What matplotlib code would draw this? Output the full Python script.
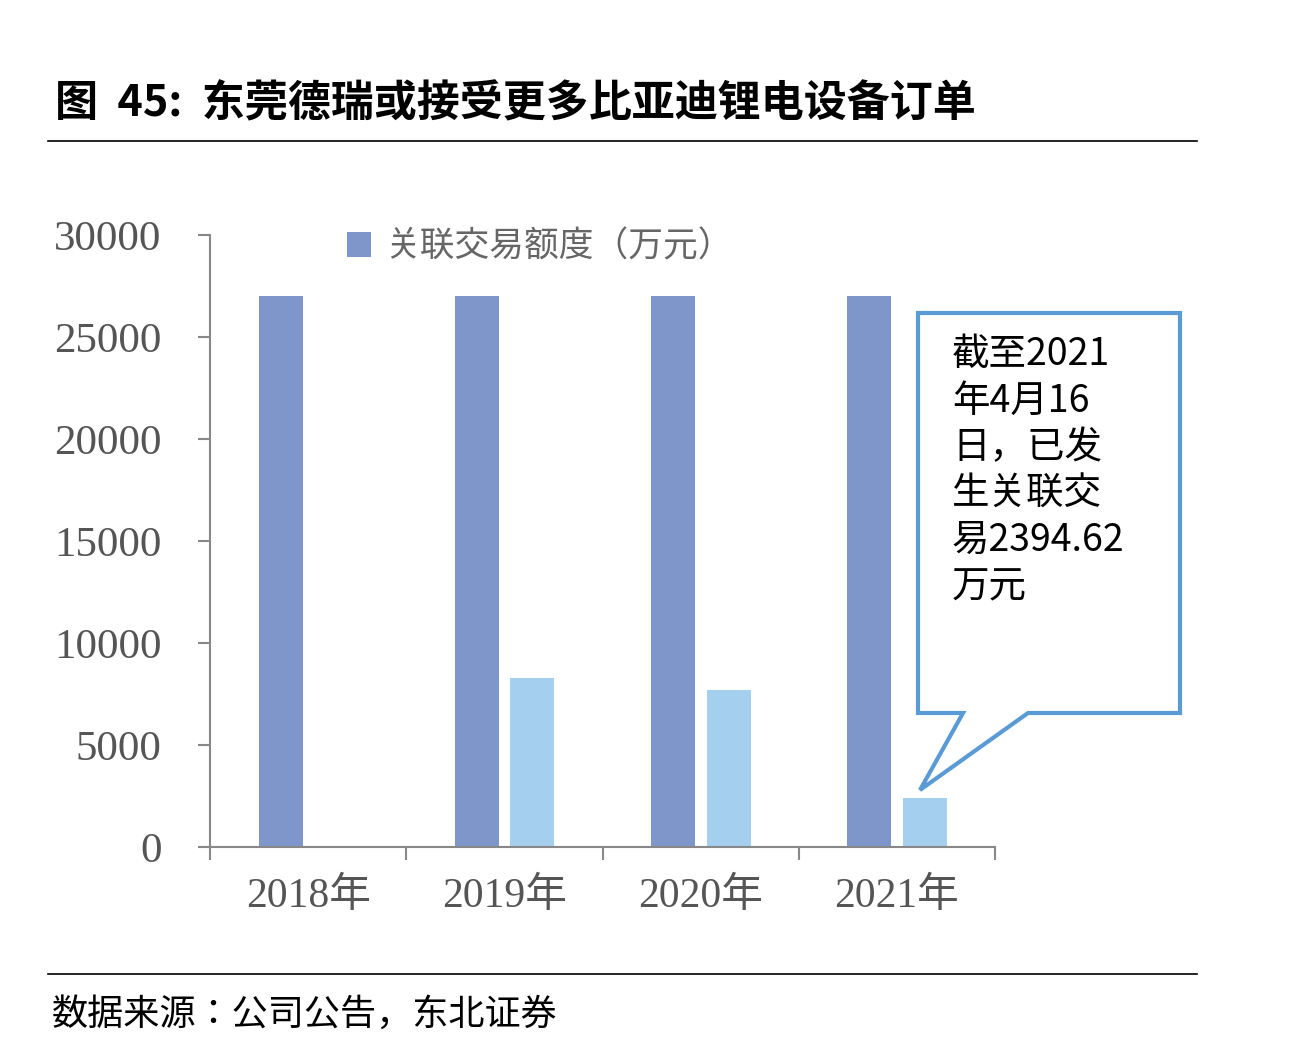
import matplotlib
matplotlib.use("Agg")
import matplotlib.pyplot as plt
from matplotlib import font_manager as fm
from matplotlib.patches import Polygon
from matplotlib.lines import Line2D

categories = ["2018年", "2019年", "2020年", "2021年"]
limit_vals = [27000, 27000, 27000, 27000]
actual_vals = [None, 8280, 7700, 2394.62]
yticks = [0, 5000, 10000, 15000, 20000, 25000, 30000]

# locate a CJK font
cjk_name = "Noto Sans CJK SC"
paths = [p for p in fm.findSystemFonts() if "CJK" in p or "cjk" in p.lower()]
paths.sort(key=lambda p: ("Regular" not in p, "SC" not in p, p))
for p in paths:
    try:
        fm.fontManager.addfont(p)
    except Exception:
        pass
if paths:
    cjk_name = fm.FontProperties(fname=paths[0]).get_name()
bold_paths = [p for p in paths if "Bold" in p]
if bold_paths:
    title_fp = fm.FontProperties(fname=bold_paths[0], size=31)
else:
    title_fp = fm.FontProperties(family=cjk_name, weight="bold", size=31)

W, H = 1302, 1049
fig = plt.figure(figsize=(W/100, H/100), dpi=100)
def fx(x): return x / W
def fy(y): return 1 - y / H

ax = fig.add_axes([fx(210), fy(847), fx(995)-fx(210), fy(235)-fy(847)])
xs = range(len(categories))
ax.bar([x-0.14 for x in xs], limit_vals, width=0.224, color="#7F96CB", label="关联交易额度（万元）")
ax.bar([x+0.143 for x, v in zip(xs, actual_vals) if v is not None],
       [v for v in actual_vals if v is not None], width=0.224, color="#A4CFEE")
ax.set_xlim(-0.5, 3.5)
ax.set_ylim(0, 30000)
ax.set_yticks(yticks)
ax.set_yticklabels([str(t) for t in yticks], fontfamily="Liberation Serif", fontsize=31, color="#555555")
ax.set_xticks(list(xs))
ax.set_xticklabels(categories, fontfamily=["Liberation Serif", cjk_name], fontsize=30, color="#555555")
ax.set_xticks([-0.5, 0.5, 1.5, 2.5, 3.5], minor=True)
ax.tick_params(axis="x", which="major", length=0, pad=22)
ax.tick_params(axis="x", which="minor", length=9, color="#888888", width=1.5)
ax.tick_params(axis="y", length=9, color="#888888", width=1.5, pad=26)
for s in ["top", "right"]:
    ax.spines[s].set_visible(False)
for s in ["left", "bottom"]:
    ax.spines[s].set_color("#888888"); ax.spines[s].set_linewidth(1.5)
ax.patch.set_alpha(0)
leg = ax.legend(loc="upper center", bbox_to_anchor=(0.42, 1.06), frameon=False,
                prop={"family": cjk_name, "size": 25}, handlelength=0.7, handleheight=0.7,
                handletextpad=0.4)
for t in leg.get_texts():
    t.set_color("#666666")

# title and rules
fig.text(fx(55), fy(103), "图  45:  东莞德瑞或接受更多比亚迪锂电设备订单", fontproperties=title_fp,
         va="center", ha="left")
fig.add_artist(Line2D([fx(48), fx(1197)], [fy(141), fy(141)], color="black", lw=1.2))
fig.add_artist(Line2D([fx(48), fx(1197)], [fy(974), fy(974)], color="black", lw=1.2))
fig.text(fx(52), fy(1015), "数据来源：公司公告，东北证券", fontfamily=cjk_name,
         fontsize=26, va="center", ha="left")

# callout
pts = [(918, 313), (1180, 313), (1180, 713), (1028, 713), (920, 790), (963, 713), (918, 713)]
fig.add_artist(Polygon([(fx(x), fy(y)) for x, y in pts], closed=True, facecolor="white",
                       edgecolor="#5B9BD5", lw=3, transform=fig.transFigure))
fig.text(fx(952), fy(335), "截至2021\n年4月16\n日，已发\n生关联交\n易2394.62\n万元", fontfamily=cjk_name,
         fontsize=27, va="top", ha="left", linespacing=1.25)

fig.savefig("out.png", dpi=100)
